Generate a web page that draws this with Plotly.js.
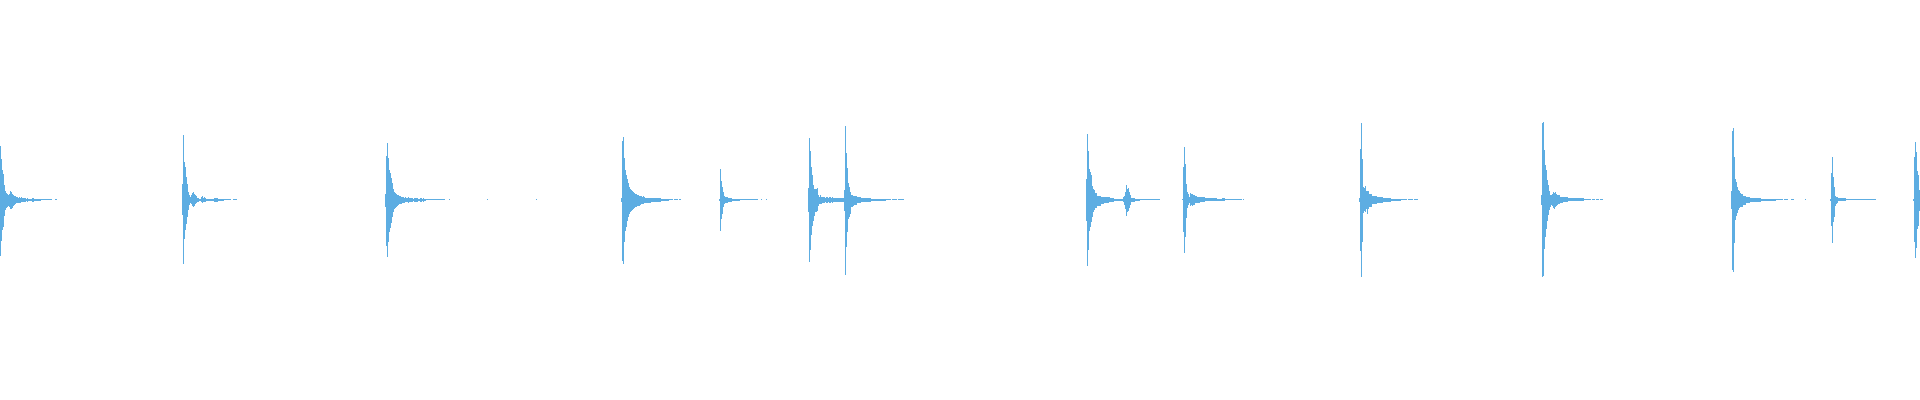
<!DOCTYPE html>
<html>
<head>
<meta charset="utf-8">
<script src="https://cdn.plot.ly/plotly-3.0.1.min.js"></script>
<style>
html,body{margin:0;padding:0;background:#ffffff;}
#chart{width:1920px;height:400px;}
</style>
</head>
<body>
<div id="chart"></div>
<script>
// Waveform envelope (per frame column), amplitude in % of full scale.
// Each hit: start frame, upper envelope (hi) and lower envelope (lo, magnitude).
const hitStarts = [0, 182, 385, 621, 719, 808, 844, 1086, 1182, 1359, 1541, 1731, 1830, 1913];

const hit1Hi = [27,20.5,15,13,7.5,4.5,3.5,3,2.5,3,4.5,4,3,2.5,2,2,1.5,1.5,1,1.5,1,1.5,1,1,1,1,0.5,1,0.5,0.5,0.5,0.5,1,1,0.5,0.5,0.5,0.5,0.5,0.5,0.5,0.25,0.25,0.25,0.25,0.25,0.25,0.25,0.25,0.25,0.25,0.25,0,0,0,0.25,0.25];
const hit1Lo = [28,20.5,15,13.5,8,5,4,3.5,3,3.5,4.5,4.5,4,3,2.5,2,1.5,1.5,1.5,1.5,1.5,1,1,1,1,1,0.5,1,0.5,0.5,0.5,0.5,1,1,0.5,0.5,0.5,0.5,0.5,0.5,0.5,0.25,0.25,0.25,0.25,0.25,0.25,0.25,0.25,0.25,0.25,0.25,0,0,0,0.25,0.25];

const hit2Hi = [8,32.25,19,16.5,11.5,8,4,2.25,1.35,2.5,3.25,3.65,3,2.15,1.65,1,1,0.5,0.5,1.35,1.65,1,1.35,1,0.5,0.5,0.5,0.5,0.5,0.5,0.5,0.5,1,1,1,1,0.5,0.5,0.5,0.5,0.5,0.5,0.25,0.25,0.25,0.25,0.25,0.25,0.25,0,0,0.25,0.25,0.25,0.25];
const hit2Lo = [7.75,32,19.5,15.25,12,8.75,5.25,2.75,1.65,2.35,3.35,3.65,3.35,2.35,1.65,1,1,0.65,0.5,1.15,1.65,1,1.15,1,0.5,0.5,0.5,0.5,0.5,0.5,0.5,0.5,1,1,1,1,0.5,0.5,0.5,0.5,0.5,0.5,0.25,0.25,0.25,0.25,0.25,0.25,0.25,0,0,0.25,0.25,0.25,0.25];

const hit3Hi = [3,22,28.5,21,15,13.5,11,8.5,5.5,4,3.5,3,2.5,2.5,2,2,1.5,1.5,1.5,1,1.5,1,1,1.5,1,1,1,1,0.5,1,1,1,1,0.5,0.5,1,1,0.5,1,0.5,0.5,0.25,0.25,0.25,0.25,0.25,0.25,0.25,0.25,0.25,0.25,0.25,0.25,0.25,0.25,0.25,0.25,0.25,0.25,0.25,0,0,0,0,0.25];
const hit3Lo = [3.5,23,28.5,21,16,14,11.5,8.5,6,4.5,4,3.5,3,2.5,2,2,2,1.5,1.5,1.5,1,1,1,1.5,1,1,1,1,0.5,1,1,1,1,0.5,0.5,1,1,0.5,1,0.5,0.5,0.25,0.25,0.25,0.25,0.25,0.25,0.25,0.25,0.25,0.25,0.25,0.25,0.25,0.25,0.25,0.25,0.25,0.25,0.25,0,0,0,0,0.25];

const hit4Hi = [1,29.5,31.5,21,15,12.5,10.5,8.5,6.5,5.5,5,4.5,4,3.5,3,3,2.5,2.5,2,2,2,1.5,2,1.5,1,1,1,1,1,1,1,1,1,1,1,1,1,1,1,1,0.5,0.5,0.5,0.5,0.5,0.5,0.5,0.5,0.25,0.25,0.25,0.25,0,0.25,0.25,0.25,0.25,0,0.25,0.25];
const hit4Lo = [1,30.5,32,21,15.5,13.5,10.5,8.5,7,6,5.5,5,4.5,4,3.5,3.5,3,3,3,2.5,2,2,2,1.5,1.5,1.5,1.5,1.5,1.5,1.5,1,1,1,1,1,1,1,1,1,1,0.5,0.5,0.5,0.5,0.5,0.5,0.5,0.5,0.25,0.25,0.25,0.25,0,0.25,0.25,0.25,0.25,0,0.25,0.25];

const hit5Hi = [0.5,15.5,9.5,6.5,4,2,1.5,1.5,1.5,1,1,1,1,0.5,0.5,0.5,0.5,0.5,0.5,0.5,0.5,0.25,0.25,0.25,0.25,0.25,0.25,0.25,0.25,0.25,0.25,0.25,0.25,0.25,0.25,0.25,0.25,0.25,0.25,0,0,0,0.25,0,0,0,0,0.25];
const hit5Lo = [0.5,15.5,9.5,7,3.5,2,1.5,1.5,1.5,1,1,1,1,0.5,0.5,0.5,0.5,0.5,0.5,0.5,0.5,0.25,0.25,0.25,0.25,0.25,0.25,0.25,0.25,0.25,0.25,0.25,0.25,0.25,0.25,0.25,0.25,0.25,0.25,0,0,0,0.25,0,0,0,0,0.25];

const hit6Hi = [6,31,24.5,16.5,12.5,7.5,5.5,5.5,5.5,6,2.5,1.5,2.5,1.5,1.5,1.5,1.5,1,1.5,1.5,1,1.5,1.5,1,1.5,1,1,1,1,1,1,1,1,1,1,1];
const hit6Lo = [6,31,25,17.5,13,10.5,8,6,6,5.5,3,2,2,2,1.5,1.5,1.5,1,1.5,1.5,1,1.5,1.5,1,1.5,1,1,1,1,1,1,1,1,1,1,1];

const hit7Hi = [5,37,23.5,16,8.5,6.5,4,2.5,2.5,2,2,2,2,1.5,1.5,1.5,1.5,1,1,1,1,1,1,1,1,1,1,0.5,0.5,0.5,0.5,0.5,0.5,0.5,0.5,0.5,0.5,0.5,0.5,0.5,0.5,0.5,0.25,0.25,0.25,0.25,0.25,0,0.25,0.25,0.25,0.25,0.25,0,0.25,0.25,0.25,0.25,0.25,0.25];
const hit7Lo = [5.5,37.5,23.5,16,9.5,8.5,7,3.5,3.5,3,2.5,2.5,2.5,1.5,1.5,1.5,1.5,1,1,1,1,1,1,1,1,1,1,0.5,0.5,0.5,0.5,0.5,0.5,0.5,0.5,0.5,0.5,0.5,0.5,0.5,0.5,0.5,0.25,0.25,0.25,0.25,0.25,0,0.25,0.25,0.25,0.25,0.25,0,0.25,0.25,0.25,0.25,0.25,0.25];

const hit8Hi = [10.5,33,24.5,15.5,14,12.5,7,5.5,5,3.5,3.5,2,2,2,2,1.5,1.5,1.5,1.5,1.5,1.5,1.5,1.5,1.5,1,1,1,1,0.5,0.5,0.5,0.5,0.5,0.5,0.5,0.5,0.5,1.5,2,4,7.5,5.5,6,4,2.5,1,1,1,1,0.5,0.5,0.5,0.5,0.5,0.25,0.25,0.25,0.25,0.25,0.25,0.25,0.25,0.25,0.25,0.25,0.25,0.25,0.25,0.25,0.25,0.25,0.25,0.25,0.25];
const hit8Lo = [10.5,33,25,15.5,13.5,11,8.5,6,5,4,4,3,3,3,3,2,2,2,1.5,1.5,1.5,1.5,1.5,1,1,1,1,1,0.5,0.5,0.5,0.5,0.5,0.5,0.5,0.5,0.5,1,2.5,4.5,8,6,5.5,4,2.5,1,1,1,1,0.5,0.5,0.5,0.5,0.5,0.25,0.25,0.25,0.25,0.25,0.25,0.25,0.25,0.25,0.25,0.25,0.25,0.25,0.25,0.25,0.25,0.25,0.25,0.25,0.25];

const hit9Hi = [0.25,16.5,26.5,18,8,4,3,1.5,3.4,3,2.75,2.25,2.25,1.75,1.75,1.5,1.5,1.5,1.1,1.1,1.1,1.1,1.1,0.75,0.75,0.75,0.75,0.75,0.6,0.6,0.6,0.6,0.6,0.6,0.9,0.5,0.5,0.5,0.5,0.5,0.75,0.75,0.75,0.25,0.25,0.25,0.25,0.25,0.25,0.25,0.25,0.25,0.25,0.25,0.25,0.25,0.25,0.25,0.25,0.25,0,0.25];
const hit9Lo = [0.25,16,26.75,18.5,9.25,4.25,2.75,1.9,3.25,2.75,3.25,2.75,2.75,1.9,1.9,1.6,1.6,1.6,1.25,1.25,1.25,1.25,1.25,0.9,0.9,0.9,0.9,0.9,0.6,0.6,0.6,0.6,0.6,0.6,0.6,0.5,0.5,0.5,0.5,0.5,0.75,0.75,0.75,0.25,0.25,0.25,0.25,0.25,0.25,0.25,0.25,0.25,0.25,0.25,0.25,0.25,0.25,0.25,0.25,0.25,0,0.25];

const hit10Hi = [1,25.5,38.5,20.5,6.5,6,7,4.5,4.5,4.5,3,3,3,2,2,2,2,2,1.5,1.5,1.5,1.5,1.5,1.5,1,1,1,1,1,1,1,1,0.5,0.5,0.5,0.5,0.5,0.5,0.5,0.5,0.5,0.5,0.25,0.25,0.25,0.25,0.25,0.25,0,0.25,0.25,0.25,0.25,0.25,0,0.25,0.25,0.25,0.25];
const hit10Lo = [1,25.5,38.5,21,6.5,5.5,6,4.5,7,4.5,3.5,3.5,3.5,2,2,2,2,2,1.5,1.5,1.5,1.5,1.5,1.5,1,1,1,1,1,1,1,1,0.5,0.5,0.5,0.5,0.5,0.5,0.5,0.5,0.5,0.5,0.25,0.25,0.25,0.25,0.25,0.25,0,0.25,0.25,0.25,0.25,0.25,0,0.25,0.25,0.25,0.25];

const hit11Hi = [2.5,38.5,38.75,24.75,17.5,14.75,9.75,7.25,4.25,2.5,2.25,3,4,3.5,4,3,2.25,2.25,2.25,1.5,1.5,1.5,1.25,1.25,1.25,1.25,1.25,0.9,0.9,0.9,0.9,0.9,0.9,0.9,0.9,0.6,0.6,0.6,0.6,0.6,0.6,0.6,0.6,0.25,0.25,0.25,0.25,0.25,0.25,0.25,0,0.25,0.25,0.25,0,0.25,0.25,0.25,0,0.25,0.25,0.25];
const hit11Lo = [2.75,38.5,38,24.5,18.5,14.5,10.75,7.75,5.25,3.5,2.75,3,4,4.5,3.5,3,2.5,2,2,1.5,1.5,1.5,1.1,1.1,1.1,1.1,1.1,0.75,0.75,0.75,0.75,0.75,0.75,0.75,0.75,0.5,0.5,0.5,0.5,0.5,0.5,0.5,0.5,0.25,0.25,0.25,0.25,0.25,0.25,0.25,0,0.25,0.25,0.25,0,0.25,0.25,0.25,0,0.25,0.25,0.25];

const hit12Hi = [4.5,34.5,36,21.5,10.5,9,6.5,5,4.5,3.5,3,3,2,2,2,1.5,1.5,1.5,1.5,1,1,1,1,1,1,1,1,1,1,1,0.5,0.5,0.5,0.5,0.5,0.5,0.5,0.5,0.5,0.5,0.5,0.5,0.5,0.5,0.5,0.25,0.25,0.25,0.25,0.25,0.25,0.25,0,0.25,0.25,0.25,0.25,0,0,0,0.25,0.25,0.25];
const hit12Lo = [4.5,35,36,21.5,10,8,6.5,5,4,3.5,3.5,3.5,2.5,2.5,2.5,1.5,1.5,1.5,1.5,1,1,1,1,1,1,1,1,1,1,1,0.5,0.5,0.5,0.5,0.5,0.5,0.5,0.5,0.5,0.5,0.5,0.5,0.5,0.5,0.5,0.25,0.25,0.25,0.25,0.25,0.25,0.25,0,0.25,0.25,0.25,0.25,0,0,0,0.25,0.25,0.25];

const hit13Hi = [0.5,13.5,21.5,11.5,6.5,2,1.5,1.5,1,1,1,1,1,1,1,1,0.25,0.25,0.25,0.25,0.25,0.25,0.25,0.25,0.25,0.25,0.25,0.25,0.25,0.25,0.25,0.25,0.25,0.25,0.25,0.25,0.25,0.25,0.25,0.25,0.25,0.25,0.25,0.25,0.25,0.25];
const hit13Lo = [0.5,13,21.5,11,8.5,3,2,1.5,0.5,0.5,0.5,0.5,0.5,0.5,0.5,0.5,0.25,0.25,0.25,0.25,0.25,0.25,0.25,0.25,0.25,0.25,0.25,0.25,0.25,0.25,0.25,0.25,0.25,0.25,0.25,0.25,0.25,0.25,0.25,0.25,0.25,0.25,0.25,0.25,0.25,0.25];

const hit14Hi = [0.5,21.5,29,24,14.5,12.5,5];
const hit14Lo = [0.5,21,29,24,14.5,13,5.5];

// isolated residual samples
const dotFrames = [487, 536, 1805];
const dotAmp = [0.25, 0.25, 0.25];

const hiSeries = [hit1Hi,hit2Hi,hit3Hi,hit4Hi,hit5Hi,hit6Hi,hit7Hi,hit8Hi,hit9Hi,hit10Hi,hit11Hi,hit12Hi,hit13Hi,hit14Hi];
const loSeries = [hit1Lo,hit2Lo,hit3Lo,hit4Lo,hit5Lo,hit6Lo,hit7Lo,hit8Lo,hit9Lo,hit10Lo,hit11Lo,hit12Lo,hit13Lo,hit14Lo];

const xs = [], bases = [], heights = [];
hitStarts.forEach((s, k) => {
  const hi = hiSeries[k], lo = loSeries[k];
  const n = Math.min(hi.length, lo.length);
  for (let i = 0; i < n; i++) {
    if (hi[i] + lo[i] <= 0) continue;
    xs.push(s + i + 0.5);
    bases.push(-lo[i]);
    heights.push(hi[i] + lo[i]);
  }
});
dotFrames.forEach((f, i) => {
  xs.push(f + 0.5);
  bases.push(-dotAmp[i]);
  heights.push(2 * dotAmp[i]);
});

const trace = {
  type: 'bar',
  x: xs,
  y: heights,
  base: bases,
  width: 1,
  marker: {color: '#5dade2', line: {width: 0}},
  hoverinfo: 'skip'
};

const layout = {
  width: 1920,
  height: 400,
  margin: {l: 0, r: 0, t: 0, b: 0, pad: 0},
  paper_bgcolor: '#ffffff',
  plot_bgcolor: '#ffffff',
  showlegend: false,
  bargap: 0,
  hovermode: false,
  xaxis: {range: [0, 1920], visible: false, showgrid: false, zeroline: false, fixedrange: true},
  yaxis: {range: [-100.25, 99.75], visible: false, showgrid: false, zeroline: false, fixedrange: true}
};

Plotly.newPlot('chart', [trace], layout, {staticPlot: true, displayModeBar: false});
</script>
</body>
</html>
